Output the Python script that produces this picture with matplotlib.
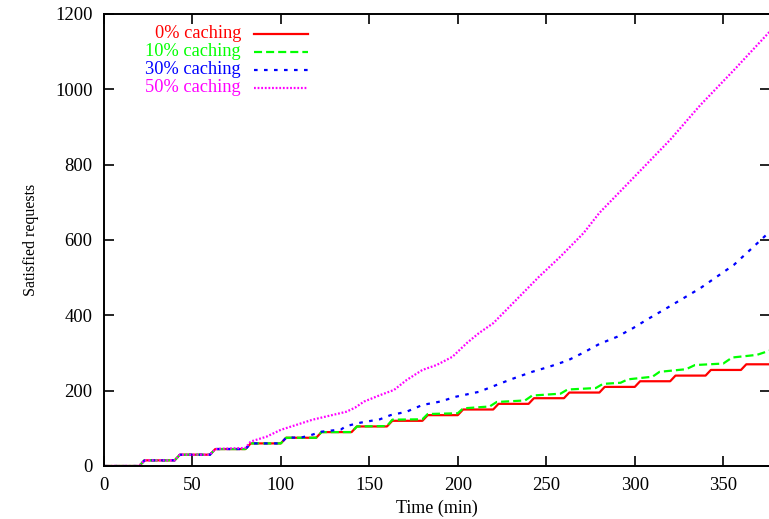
import matplotlib
matplotlib.use("Agg")
import matplotlib.pyplot as plt

# step points (time in min, satisfied requests)
t_0 = [0, 20, 23, 40, 43, 60, 63, 80, 83, 100, 103, 120, 123, 140, 143, 160, 163,
       180, 183, 200, 203, 220, 223, 240, 243, 260, 263, 280, 283, 300, 303, 320, 323,
       340, 343, 360, 363, 376]
y_0 = [0, 0, 15, 15, 30, 30, 45, 45, 60, 60, 75, 75, 90, 90, 105, 105, 120,
       120, 135, 135, 150, 150, 165, 165, 180, 180, 195, 195, 210, 210, 225, 225, 240,
       240, 255, 255, 270, 270]

t_10 = [0, 20, 23, 40, 43, 60, 63, 80, 83, 100, 103, 120, 123, 140, 143, 160, 163,
        180, 183, 200, 203, 218, 222, 238, 242, 258, 262, 278, 282, 292, 296, 310, 314,
        329, 334, 350, 355, 369, 376]
y_10 = [0, 0, 15, 15, 30, 30, 45, 45, 60, 60, 75, 75, 90, 90, 105, 106, 123,
        124, 138, 140, 153, 158, 170, 174, 187, 192, 203, 207, 218, 221, 230, 237, 250,
        257, 268, 272, 288, 295, 306]

t_30 = [0, 20, 23, 40, 43, 60, 63, 80, 83, 100, 103, 112, 117, 123, 134, 137, 145,
        156, 162, 171, 180, 190, 199, 212, 230, 242, 252, 262, 271, 280, 290, 299, 307,
        318, 337, 356, 365, 376]
y_30 = [0, 0, 15, 15, 30, 30, 45, 45, 60, 60, 75, 76, 82, 91, 97, 106, 115,
        124, 135, 144, 162, 171, 184, 197, 230, 250, 264, 280, 301, 324, 343, 366, 389,
        419, 472, 534, 573, 621]

t_50 = [0, 20, 23, 40, 43, 60, 63, 80, 83, 92, 100, 118, 137, 142, 147, 156, 164,
        171, 180, 188, 197, 205, 212, 220, 233, 246, 258, 271, 280, 299, 320, 337, 356,
        376]
y_50 = [0, 0, 15, 15, 30, 30, 45, 48, 65, 78, 96, 123, 144, 155, 171, 188, 202,
        228, 255, 268, 290, 326, 353, 379, 441, 503, 556, 618, 672, 764, 866, 958, 1051,
        1152]

labels = ["0% caching", "10% caching", "30% caching", "50% caching"]
colors = ["#ff0000", "#00ff00", "#0000ff", "#ff00ff"]
dashes = [None, (5.8, 2.9), (2.6, 4.6), (1.3, 1.3)]

plt.rcParams['font.family'] = ['Liberation Serif', 'DejaVu Serif']
plt.rcParams['lines.scale_dashes'] = False

fig = plt.figure(figsize=(7.69, 5.19), dpi=100)
ax = fig.add_axes([103.8 / 769, 53 / 519, 666.2 / 769, 452 / 519])

series = [(t_0, y_0), (t_10, y_10), (t_30, y_30), (t_50, y_50)]
for i, (t, y) in enumerate(series):
    line, = ax.plot(t, y, color=colors[i], lw=1.6)
    if dashes[i] is not None:
        line.set_dashes(dashes[i])
    # gnuplot-style key: label text on the left, sample on the right
    ky = 0.956 - i * 0.0398
    ax.text(0.206, ky, labels[i], color=colors[i], fontsize=13.2,
            ha='right', va='center', transform=ax.transAxes)
    sample, = ax.plot([0.226, 0.306], [ky, ky], color=colors[i], lw=1.6,
                      transform=ax.transAxes)
    if dashes[i] is not None:
        sample.set_dashes(dashes[i])

ax.set_xlim(0, 376.4)
ax.set_ylim(0, 1200)
ax.set_xticks(range(0, 351, 50))
ax.set_yticks(range(0, 1201, 200))
ax.tick_params(direction='in', length=7, width=1.2, top=True, right=True,
               labelsize=13.4, pad=8)
for s in ax.spines.values():
    s.set_linewidth(1.4)

ax.set_xlabel("Time (min)", fontsize=13, labelpad=4)
ax.set_ylabel("Satisfied requests", fontsize=11.5, labelpad=12)

fig.savefig("out.png", dpi=100)
